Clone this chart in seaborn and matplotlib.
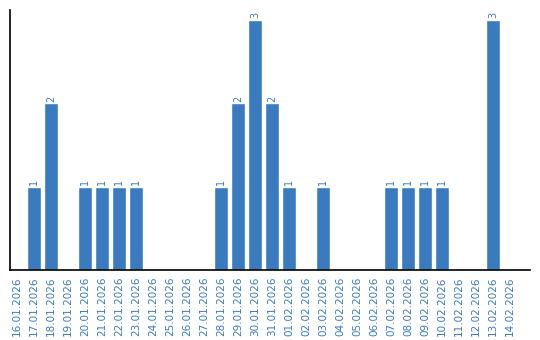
import matplotlib
matplotlib.use("Agg")
import matplotlib.pyplot as plt
import seaborn as sns
import pandas as pd

dates = ["16.01.2026", "17.01.2026", "18.01.2026", "19.01.2026", "20.01.2026",
         "21.01.2026", "22.01.2026", "23.01.2026", "24.01.2026", "25.01.2026",
         "26.01.2026", "27.01.2026", "28.01.2026", "29.01.2026", "30.01.2026",
         "31.01.2026", "01.02.2026", "02.02.2026", "03.02.2026", "04.02.2026",
         "05.02.2026", "06.02.2026", "07.02.2026", "08.02.2026", "09.02.2026",
         "10.02.2026", "11.02.2026", "12.02.2026", "13.02.2026", "14.02.2026"]
counts = [0, 1, 2, 0, 1, 1, 1, 1, 0, 0, 0, 0, 1, 2, 3, 2, 1, 0, 1, 0,
          0, 0, 1, 1, 1, 1, 0, 0, 3, 0]

color = "#3a7bc0"
df = pd.DataFrame({"date": dates, "count": counts})

sns.set_style("white")
fig = plt.figure(figsize=(5.4, 3.4), dpi=100)
ax = fig.add_axes([10/540, 70/340, 520/540, 260/340])
sns.barplot(data=df, x="date", y="count", color=color, saturation=1, width=14/17, ax=ax)

for i, v in enumerate(counts):
    if v > 0:
        ax.text(i, v + 0.02, str(v), rotation=90, ha="center", va="bottom",
                fontsize=7, color=color)

ax.set_xlim(-7/17, 513/17)
ax.set_ylim(0, 3 * 260 / 250)
ax.set_xlabel("")
ax.set_ylabel("")
ax.set_yticks([])
ax.tick_params(axis="x", length=0, pad=5, labelsize=7.5, labelcolor=color)
plt.setp(ax.get_xticklabels(), rotation=90)
for s in ["top", "right"]:
    ax.spines[s].set_visible(False)
for s in ["left", "bottom"]:
    ax.spines[s].set_color("black")
    ax.spines[s].set_linewidth(1.2)

fig.savefig("out.png", dpi=100)
